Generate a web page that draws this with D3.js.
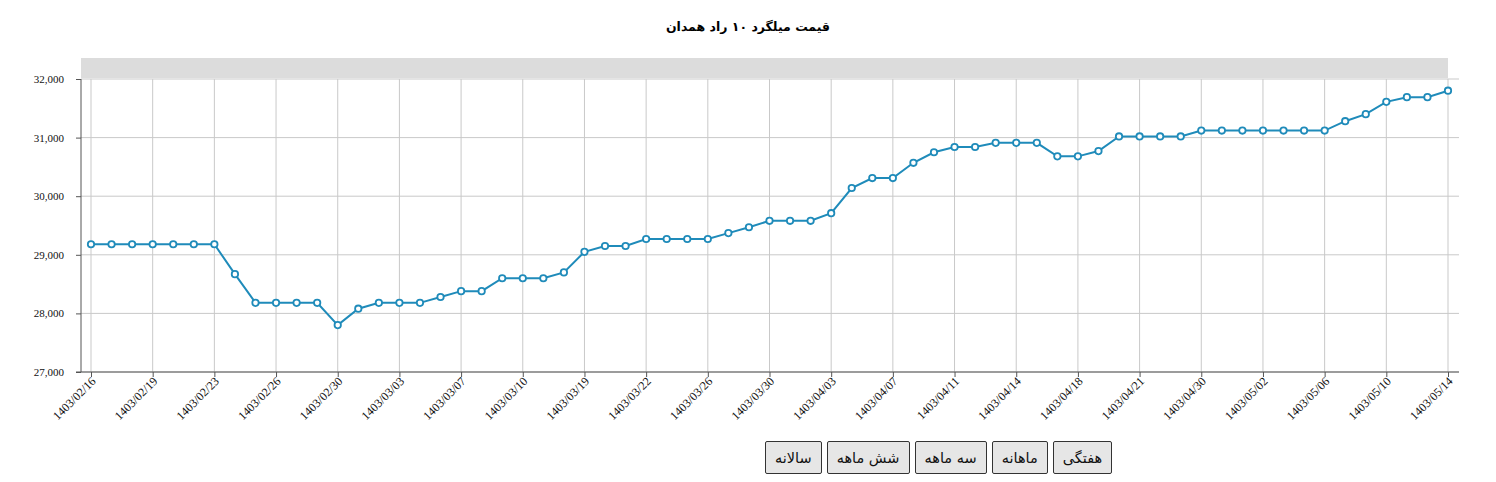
<!DOCTYPE html>
<html lang="fa">
<head>
<meta charset="utf-8">
<script src="https://cdn.jsdelivr.net/npm/d3@7"></script>
<style>
  body { margin: 0; background: #fff; }
  #chart { position: relative; width: 1496px; height: 482px; }
  .ranges {
    position: absolute; top: 441px; left: 765px;
    direction: rtl; display: flex; gap: 5px;
  }
  .ranges button {
    font-family: "DejaVu Sans", sans-serif; font-size: 14.5px;
    background: #e6e6e6; border: 1px solid #333; border-radius: 2px;
    height: 33px; padding: 0 9px; color: #111;
  }
</style>
</head>
<body>
<div id="chart"></div>
<script>
// price series, one point per trading day
const prices = [
  29180, 29180, 29180, 29180, 29180, 29180, 29180, 28670, 28180, 28180,
  28180, 28180, 27800, 28080, 28180, 28180, 28180, 28280, 28380, 28380,
  28600, 28600, 28600, 28700, 29050, 29150, 29150, 29270, 29270, 29270,
  29270, 29370, 29470, 29580, 29580, 29580, 29710, 30140, 30310, 30310,
  30570, 30750, 30840, 30840, 30910, 30910, 30910, 30680, 30680, 30770,
  31020, 31020, 31020, 31020, 31120, 31120, 31120, 31120, 31120, 31120,
  31120, 31280, 31400, 31610, 31690, 31690, 31800
];

// date label shown under every third point
const tickLabels = [
  "1403/02/16", "1403/02/19", "1403/02/23", "1403/02/26", "1403/02/30",
  "1403/03/03", "1403/03/07", "1403/03/10", "1403/03/19", "1403/03/22",
  "1403/03/26", "1403/03/30", "1403/04/03", "1403/04/07", "1403/04/11",
  "1403/04/14", "1403/04/18", "1403/04/21", "1403/04/30", "1403/05/02",
  "1403/05/06", "1403/05/10", "1403/05/14"
];
const tickStep = 3;

const yTicks = [27000, 28000, 29000, 30000, 31000, 32000];
const rangeButtons = ["هفتگی", "ماهانه", "سه ماهه", "شش ماهه", "سالانه"];
const title = "قیمت میلگرد ۱۰ راد همدان";

const width = 1496, height = 482;
const plot = { left: 81, right: 1459, top: 79, bottom: 372 };
const lineColor = "#1f8bba";

const svg = d3.select("#chart").append("svg")
    .attr("width", width)
    .attr("height", height);

const x = d3.scaleLinear()
    .domain([0, prices.length - 1])
    .range([91, 1448]);

const y = d3.scaleLinear()
    .domain([27000, 32000])
    .range([plot.bottom, plot.top]);

// title
svg.append("text")
    .attr("x", 748).attr("y", 31)
    .attr("text-anchor", "middle")
    .attr("direction", "rtl")
    .style("font-family", "DejaVu Sans, sans-serif")
    .style("font-weight", "bold")
    .style("font-size", "12.5px")
    .text(title);

// grey navigator strip above the plot
svg.append("rect")
    .attr("x", plot.left).attr("y", 58)
    .attr("width", 1448 - plot.left).attr("height", 20)
    .attr("fill", "#dcdcdc");

// grid
const tickIdx = tickLabels.map((d, i) => i * tickStep);

svg.append("g").selectAll("line")
    .data(yTicks)
    .join("line")
    .attr("x1", plot.left).attr("x2", plot.right)
    .attr("y1", d => y(d)).attr("y2", d => y(d))
    .attr("stroke", "#c9c9c9");

svg.append("g").selectAll("line")
    .data(tickIdx)
    .join("line")
    .attr("x1", d => x(d)).attr("x2", d => x(d))
    .attr("y1", plot.top).attr("y2", plot.bottom)
    .attr("stroke", "#c9c9c9");

// y axis
const yAxis = svg.append("g")
    .attr("transform", `translate(${plot.left},0)`)
    .call(d3.axisLeft(y).tickValues(yTicks).tickSize(5).tickPadding(12)
        .tickFormat(d3.format(",")));
yAxis.select(".domain").attr("stroke", "#555").attr("d", `M0,${plot.top}V${plot.bottom}`);
yAxis.selectAll(".tick line").attr("stroke", "#555");
yAxis.selectAll("text")
    .style("font-family", "Liberation Serif, serif")
    .style("font-size", "11px")
    .attr("fill", "#111");

// x axis
const xAxis = svg.append("g")
    .attr("transform", `translate(0,${plot.bottom})`)
    .call(d3.axisBottom(x).tickValues(tickIdx).tickSize(5)
        .tickFormat((d, i) => tickLabels[i]));
xAxis.select(".domain").attr("stroke", "#555").attr("d", `M${plot.left - 5},0H${plot.right}`);
xAxis.selectAll(".tick line").attr("stroke", "#555");
xAxis.selectAll("text")
    .style("font-family", "Liberation Serif, serif")
    .style("font-size", "12px")
    .attr("fill", "#111")
    .attr("text-anchor", "end")
    .attr("dy", null)
    .attr("y", 0)
    .attr("transform", "translate(5,10) rotate(-45)");

// series
svg.append("path")
    .datum(prices)
    .attr("fill", "none")
    .attr("stroke", lineColor)
    .attr("stroke-width", 2)
    .attr("d", d3.line().x((d, i) => x(i)).y(d => y(d)));

svg.append("g").selectAll("circle")
    .data(prices)
    .join("circle")
    .attr("cx", (d, i) => x(i))
    .attr("cy", d => y(d))
    .attr("r", 3.2)
    .attr("fill", "#fff")
    .attr("stroke", lineColor)
    .attr("stroke-width", 1.8);

// range buttons
d3.select("#chart").append("div")
    .attr("class", "ranges")
    .selectAll("button")
    .data(rangeButtons)
    .join("button")
    .text(d => d);
</script>
</body>
</html>
